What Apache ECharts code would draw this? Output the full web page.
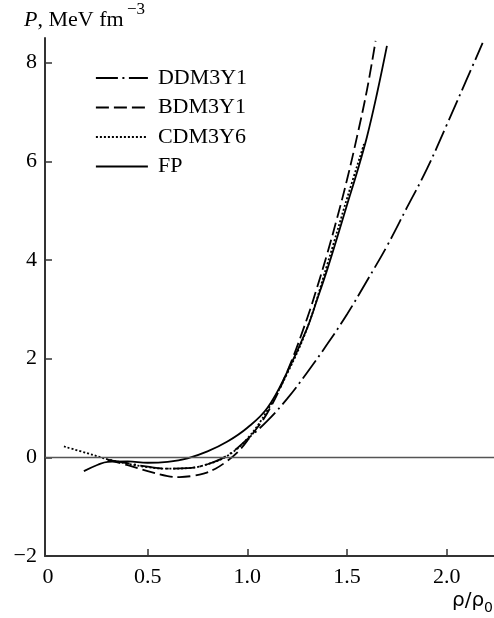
<!DOCTYPE html>
<html>
<head>
<meta charset="utf-8">
<title>Pressure of nuclear matter</title>
<script src="https://cdn.jsdelivr.net/npm/echarts@6/dist/echarts.min.js"></script>
<style>
  html, body { margin: 0; padding: 0; background: #fff; }
  #chart { width: 494px; height: 618px; }
</style>
</head>
<body>
<div id="chart"></div>
<script>
// Density grid (ρ/ρ0) and pressure P (MeV fm^-3) for each equation of state
const rhoDD = [0.3, 0.4, 0.5, 0.6, 0.7, 0.8, 0.9, 1.0, 1.1, 1.2, 1.3, 1.4, 1.5, 1.6, 1.7, 1.8, 1.9, 2.0, 2.1, 2.18];
const pDD   = [-0.05, -0.12, -0.19, -0.23, -0.22, -0.14, 0.04, 0.37, 0.74, 1.19, 1.72, 2.29, 2.9, 3.58, 4.28, 5.06, 5.84, 6.74, 7.66, 8.40];

const rhoBD = [0.3, 0.4, 0.5, 0.6, 0.66, 0.72, 0.78, 0.84, 0.9, 0.95, 1.0, 1.1, 1.2, 1.3, 1.35, 1.4, 1.45, 1.5, 1.55, 1.6, 1.643];
const pBD   = [-0.05, -0.16, -0.28, -0.38, -0.40, -0.38, -0.33, -0.23, -0.07, 0.10, 0.34, 0.9, 1.74, 2.82, 3.45, 4.12, 4.85, 5.63, 6.5, 7.45, 8.44];

const rhoCD = [0.08, 0.2, 0.3, 0.4, 0.5, 0.6, 0.7, 0.8, 0.9, 1.0, 1.1, 1.2, 1.3, 1.4, 1.5, 1.585];
const pCD   = [0.22, 0.08, -0.04, -0.13, -0.2, -0.23, -0.22, -0.14, 0.03, 0.38, 0.95, 1.7, 2.62, 3.9, 5.25, 6.35];

const rhoFP = [0.18, 0.25, 0.3, 0.4, 0.5, 0.6, 0.7, 0.8, 0.9, 1.0, 1.1, 1.2, 1.3, 1.35, 1.4, 1.45, 1.5, 1.55, 1.6, 1.65, 1.7];
const pFP   = [-0.28, -0.15, -0.09, -0.08, -0.11, -0.09, -0.02, 0.12, 0.32, 0.6, 1.0, 1.73, 2.62, 3.2, 3.8, 4.45, 5.12, 5.78, 6.5, 7.37, 8.34];

const seriesNames = ['DDM3Y1', 'BDM3Y1', 'CDM3Y6', 'FP'];
const xTicks = [0, 0.5, 1.0, 1.5, 2.0];
const yTickStep = 2;

const serif = '"Liberation Serif", "Times New Roman", serif';
const sans = '"DejaVu Sans", sans-serif';
const pairs = (xs, ys) => xs.map((x, i) => [x, ys[i]]);

const lineSeries = (name, xs, ys, dash) => ({
  name: name,
  type: 'line',
  data: pairs(xs, ys),
  smooth: 0.4,
  symbol: 'none',
  silent: true,
  itemStyle: { color: '#000' },
  lineStyle: { color: '#000', width: 1.8, type: dash }
});

const chart = echarts.init(document.getElementById('chart'), null, { renderer: 'canvas' });

// FP curve also carries the horizontal P = 0 reference line
const fpSeries = lineSeries(seriesNames[3], rhoFP, pFP, 'solid');
fpSeries.markLine = {
  silent: true,
  symbol: 'none',
  label: { show: false },
  lineStyle: { color: '#555', width: 1.3, type: 'solid' },
  data: [{ yAxis: 0 }]
};

chart.setOption({
  animation: false,
  backgroundColor: '#fff',
  title: [
    {
      // y-axis quantity and unit
      left: 24, top: 9, padding: 0,
      text: '{i|P}{t|, MeV fm}',
      textStyle: {
        fontWeight: 'normal',
        rich: {
          i: { fontFamily: serif, fontStyle: 'italic', fontWeight: 'normal', fontSize: 22, color: '#000', lineHeight: 22 },
          t: { fontFamily: serif, fontWeight: 'normal', fontSize: 22, color: '#000', lineHeight: 22 }
        }
      }
    },
    {
      // unit exponent
      left: 127, top: 1, padding: 0,
      text: '−3',
      textStyle: { fontFamily: serif, fontWeight: 'normal', fontSize: 17, color: '#000', lineHeight: 17 }
    },
    {
      right: 1, top: 591, padding: 0,
      text: '{a|ρ/ρ}{b|0}',
      textStyle: {
        fontWeight: 'normal',
        rich: {
          a: { fontFamily: sans, fontWeight: 'normal', fontSize: 20, color: '#000', lineHeight: 24, verticalAlign: 'top' },
          b: { fontFamily: sans, fontWeight: 'normal', fontSize: 14, color: '#000', lineHeight: 14, verticalAlign: 'bottom' }
        }
      }
    }
  ],
  legend: {
    orient: 'vertical',
    left: 95, top: 67, padding: 0,
    itemWidth: 52, itemHeight: 14, itemGap: 7.5,
    data: seriesNames,
    textStyle: { fontFamily: serif, fontSize: 22, color: '#000', lineHeight: 22, padding: [0, 0, 0, 5] },
    itemStyle: { opacity: 0 },
    lineStyle: { width: 1.8 }
  },
  grid: { left: 45, right: 0, top: 38, bottom: 62, containLabel: false },
  xAxis: {
    type: 'value',
    min: -0.015, max: 2.237,
    axisLine: { show: true, onZero: false, lineStyle: { color: '#333', width: 2 } },
    axisTick: { show: true, inside: true, length: 7, lineStyle: { color: '#333', width: 1.5 }, customValues: xTicks.slice(1) },
    axisLabel: {
      customValues: xTicks,
      margin: 10,
      fontFamily: serif, fontSize: 22, color: '#000',
      formatter: v => (v === 0 ? '0' : v.toFixed(1))
    },
    splitLine: { show: false }
  },
  yAxis: {
    type: 'value',
    min: -2, max: 8.5, interval: yTickStep,
    axisLine: { show: true, onZero: false, lineStyle: { color: '#333', width: 2 } },
    axisTick: { show: true, inside: true, length: 7, lineStyle: { color: '#333', width: 1.5 } },
    axisLabel: {
      margin: 8,
      showMaxLabel: false,
      fontFamily: serif, fontSize: 22, color: '#000',
      formatter: v => (v > 8 ? '' : String(v).replace('-', '−'))
    },
    splitLine: { show: false }
  },
  series: [
    lineSeries(seriesNames[0], rhoDD, pDD, [22, 4.5, 2, 4.5]),
    lineSeries(seriesNames[1], rhoBD, pBD, [13, 5]),
    lineSeries(seriesNames[2], rhoCD, pCD, [2, 2]),
    fpSeries
  ]
});
</script>
</body>
</html>
